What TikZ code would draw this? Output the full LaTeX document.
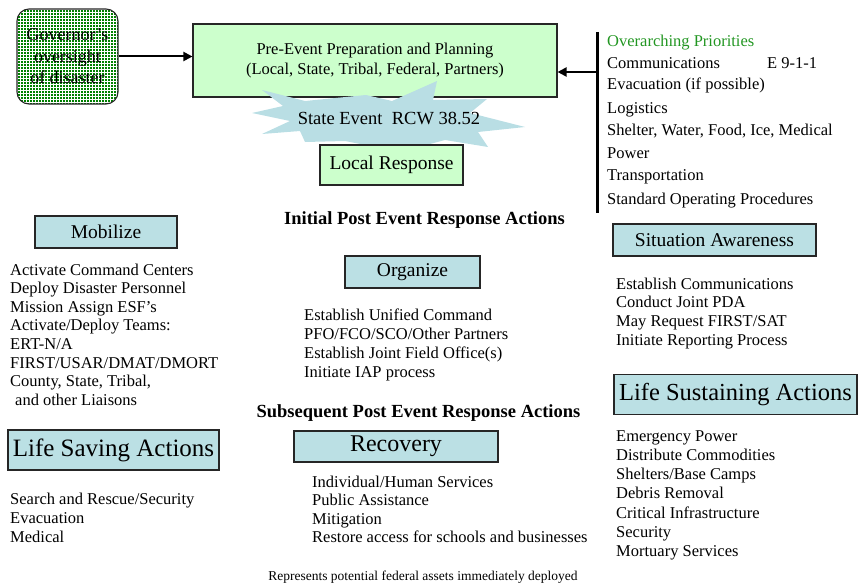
\documentclass[tikz,border=0pt]{standalone}
\usepackage{fontspec}
\setmainfont{Liberation Serif}
\usetikzlibrary{arrows.meta}
\definecolor{boxblue}{RGB}{187,224,228}
\definecolor{paleg}{RGB}{204,255,204}
\definecolor{govg}{RGB}{0,128,0}
\definecolor{burstc}{RGB}{185,222,228}
\definecolor{prio}{RGB}{34,150,34}
\newcommand{\fsz}[2]{\fontsize{#1}{#2}\selectfont}
\begin{document}
\begin{tikzpicture}[x=1pt,y=-1pt,
 bluebox/.style={draw=black!85,line width=1.1pt,fill=boxblue,inner sep=0pt},
 greenbox/.style={draw=black!85,line width=1.1pt,fill=paleg,inner sep=0pt},
 lst/.style={anchor=base west,inner sep=0pt,font=\fsz{16.5}{19}},
 arr/.style={line width=2pt,-{Triangle[length=9pt,width=9pt]}},
 ttl/.style={font=\bfseries\fsz{18.5}{22},inner sep=0pt},
 gridline/.style={white,line width=0.55pt}]
\useasboundingbox (0,0) rectangle (859,586);

% Governor box: green fill with white grid
\begin{scope}
\clip[rounded corners=12pt] (17,9) rectangle (118,104);
\fill[govg] (17,9) rectangle (118,104);
\foreach \k in {0,...,34} \draw[gridline] (17.5+3*\k,9) -- (17.5+3*\k,104);
\foreach \k in {0,...,32} \draw[gridline] (17,9.5+3*\k) -- (118,9.5+3*\k);
\end{scope}
\node[draw=black!85,line width=1.1pt,rounded corners=12pt,
      minimum width=101pt,minimum height=95pt,inner sep=0pt,align=center,
      font=\fsz{18}{21.5}] (gov) at (67.5,56.5) {Governor’s\\oversight\\of disaster};

% Pre-event box
\node[greenbox,minimum width=364pt,minimum height=73pt,align=center,
      font=\fsz{16.5}{20}] (pre) at (375,60.5)
      {Pre-Event Preparation and Planning\\(Local, State, Tribal, Federal, Partners)};

\draw[arr] (gov.east) -- (gov.east -| pre.west);

% starburst
\fill[burstc] (252,113) -- (283,106) -- (262,90) -- (305,101) -- (366,95) -- (392,101)
  -- (437,81) -- (433,100) -- (487,99) -- (470,113) -- (525,127) -- (478,132)
  -- (488,147) -- (445,140) -- (400,152) -- (345,141) -- (305,142) -- (300,131)
  -- (262,134) -- (290,121) -- cycle;
\node[inner sep=0pt,font=\fsz{18.5}{22}] (state) at (389,118) {State Event\ \ RCW 38.52};

\node[greenbox,minimum width=143pt,minimum height=40pt,font=\fsz{19.5}{23}] (local) at (391.5,165) {Local Response};

% Overarching priorities
\coordinate (bartop) at (597,32);
\coordinate (barbot) at (597,213);
\draw[line width=3pt] (bartop) -- (barbot);
\coordinate (barpt) at (596,72);
\draw[arr] (barpt) -- (barpt -| pre.east);

\node[lst,text=prio] (p0) at (607,47) {Overarching Priorities};
\node[lst] (p1) at (607,68) {Communications};
\node[lst] (p1b) at (767,68) {E 9-1-1};
\node[lst] (p2) at (607,89) {Evacuation (if possible)};
\node[lst] (p3) at (607,113) {Logistics};
\node[lst] (p4) at (607,135) {Shelter, Water, Food, Ice, Medical};
\node[lst] (p5) at (607,158) {Power};
\node[lst] (p6) at (607,180) {Transportation};
\node[lst] (p7) at (607,204) {Standard Operating Procedures};

% titles
\node[ttl] (init) at (424.5,220) {Initial Post Event Response Actions};
\node[ttl] (subs) at (418.5,413) {Subsequent Post Event Response Actions};

% Mobilize
\node[bluebox,minimum width=142pt,minimum height=32pt,font=\fsz{19.5}{23}] (mob) at (106,232) {Mobilize};
\foreach \t [count=\i from 0] in {Activate Command Centers,Deploy Disaster Personnel,Mission Assign ESF’s,Activate/Deploy Teams:,ERT-N/A,FIRST/USAR/DMAT/DMORT,{County, State, Tribal,},{\hspace*{5pt}and other Liaisons}}
  \node[lst] (mob\i) at (10,275+18.6*\i) {\t};

% Organize
\node[bluebox,minimum width=135pt,minimum height=32pt,font=\fsz{19.5}{23}] (org) at (412.5,272) {Organize};
\foreach \t [count=\i from 0] in {Establish Unified Command,PFO/FCO/SCO/Other Partners,Establish Joint Field Office(s),Initiate IAP process}
  \node[lst] (org\i) at (304,320+19*\i) {\t};

% Situation awareness
\node[bluebox,minimum width=203pt,minimum height=32pt,font=\fsz{19.5}{23}] (sa) at (714.5,240) {Situation Awareness};
\foreach \t [count=\i from 0] in {Establish Communications,Conduct Joint PDA,May Request FIRST/SAT,Initiate Reporting Process}
  \node[lst] (sa\i) at (616,289+18.7*\i) {\t};

% Life sustaining
\node[bluebox,minimum width=243pt,minimum height=40pt,font=\fsz{24.5}{28}] (lsu) at (735.5,394.5) {Life Sustaining Actions};
\foreach \t [count=\i from 0] in {Emergency Power,Distribute Commodities,Shelters/Base Camps,Debris Removal,Critical Infrastructure,Security,Mortuary Services}
  \node[lst] (lsu\i) at (616,441+19.3*\i) {\t};

% Life saving
\node[bluebox,minimum width=211pt,minimum height=40pt,font=\fsz{25}{29}] (lsa) at (113.5,450) {Life Saving Actions};
\foreach \t [count=\i from 0] in {Search and Rescue/Security,Evacuation,Medical}
  \node[lst] (lsa\i) at (10,504+19*\i) {\t};

% Recovery
\node[bluebox,minimum width=204pt,minimum height=31pt,font=\fsz{24}{28}] (rec) at (396,446.5) {Recovery};
\foreach \t [count=\i from 0] in {Individual/Human Services,Public Assistance,Mitigation,Restore access for schools and businesses}
  \node[lst] (rec\i) at (312,487+18.5*\i) {\t};

% footer
\node[inner sep=0pt,font=\fsz{13.5}{16}] (foot) at (423,577) {Represents potential federal assets immediately deployed};
\end{tikzpicture}
\end{document}
